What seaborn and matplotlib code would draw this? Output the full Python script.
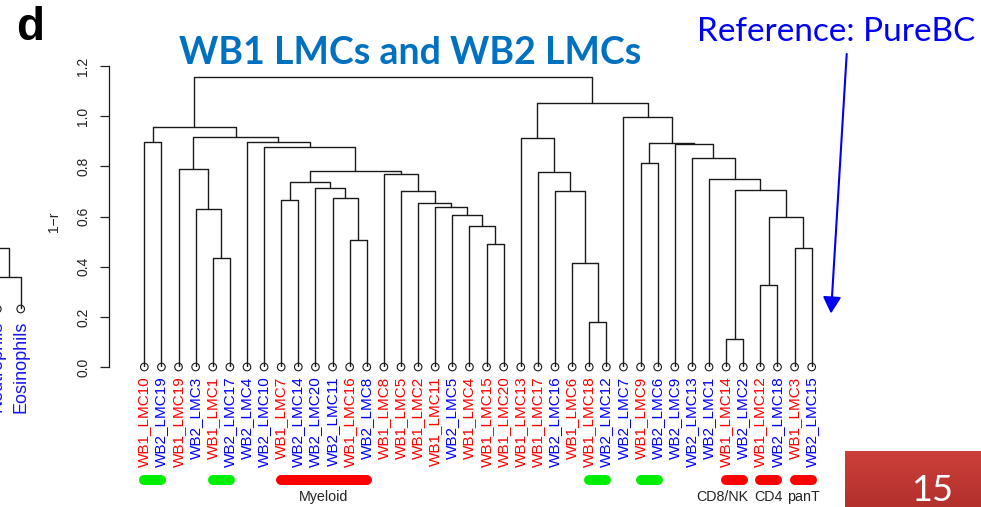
import numpy as np
import pandas as pd
import matplotlib
matplotlib.use("Agg")
import matplotlib.pyplot as plt
import seaborn as sns
from matplotlib import transforms
from matplotlib.colors import LinearSegmentedColormap

# ---- leaves of the dendrogram, in plotted order ----
leaf_labels = [
    "WB1_LMC10", "WB2_LMC19", "WB1_LMC19", "WB2_LMC3", "WB1_LMC1", "WB2_LMC17",
    "WB2_LMC4", "WB2_LMC10", "WB1_LMC7", "WB2_LMC14", "WB2_LMC20", "WB2_LMC11",
    "WB1_LMC16", "WB2_LMC8", "WB1_LMC8", "WB1_LMC5", "WB1_LMC2", "WB1_LMC11",
    "WB2_LMC5", "WB1_LMC4", "WB1_LMC15", "WB1_LMC20", "WB1_LMC13", "WB1_LMC17",
    "WB2_LMC16", "WB1_LMC6", "WB1_LMC18", "WB2_LMC12", "WB2_LMC7", "WB1_LMC9",
    "WB2_LMC6", "WB2_LMC9", "WB2_LMC13", "WB2_LMC1", "WB1_LMC14", "WB2_LMC2",
    "WB1_LMC12", "WB2_LMC18", "WB1_LMC3", "WB2_LMC15",
]
batch_colors = {"WB1": "#FF0000", "WB2": "#0000FF"}

# ---- merges (linkage style: ids >= 40 refer to earlier merges) ----
merge_left = [34, 26, 36, 25, 4, 38, 20, 12, 19, 42, 18, 3, 17, 16, 8, 11, 15, 24, 40, 10,
              54, 33, 14, 23, 60, 2, 29, 32, 7, 31, 66, 0, 6, 22, 65, 71, 28, 73, 75]
merge_right = [35, 27, 37, 41, 5, 39, 21, 13, 46, 45, 48, 44, 50, 52, 9, 47, 53, 43, 49, 55,
               59, 58, 56, 57, 62, 51, 30, 61, 64, 67, 69, 1, 68, 63, 72, 74, 70, 76, 77]
merge_height = [0.113, 0.181, 0.326, 0.416, 0.433, 0.476, 0.490, 0.508, 0.564, 0.598,
                0.606, 0.631, 0.639, 0.653, 0.667, 0.672, 0.703, 0.703, 0.704, 0.714,
                0.736, 0.751, 0.770, 0.779, 0.780, 0.789, 0.815, 0.835, 0.877, 0.889,
                0.894, 0.896, 0.896, 0.914, 0.918, 0.956, 0.998, 1.054, 1.157]

# ---- cell-type annotation bars under the leaves ----
bar_start = [0, 4, 8, 26, 29, 34, 36, 38]
bar_end = [1, 5, 13, 27, 30, 35, 37, 39]
bar_colors = ["#00EE00", "#00EE00", "#FF0000", "#00EE00", "#00EE00", "#FF0000", "#FF0000", "#FF0000"]
bar_names = ["", "", "Myeloid", "", "", "CD8/NK", "CD4", "panT"]
bar_name_align = ["center", "center", "center", "center", "center", "right", "center", "center"]

y_ticks = [0.0, 0.2, 0.4, 0.6, 0.8, 1.0, 1.2]

# ---- neighbouring panel (cut at the left edge) ----
side_labels = ["Neutrophils", "Eosinophils"]
side_merge_height = 0.126
side_parent_height = 0.242

sns.set_theme(style="white")
plt.rcParams["font.family"] = ["Liberation Sans", "DejaVu Sans"]

W, H = 981, 507
fig = plt.figure(figsize=(W / 100, H / 100), dpi=100)
fig.patch.set_facecolor("white")


def frac(x0, y_top, x1, y_bot):
    return [x0 / W, 1 - y_bot / H, (x1 - x0) / W, (y_bot - y_top) / H]


def dendro_segments(n_leaves, left, right, height):
    pos = {i: float(i) for i in range(n_leaves)}
    hgt = {i: 0.0 for i in range(n_leaves)}
    rows = []
    for k, (a, b, h) in enumerate(zip(left, right, height)):
        nid = n_leaves + k
        pos[nid] = (pos[a] + pos[b]) / 2
        hgt[nid] = h
        for x, y in [(pos[a], hgt[a]), (pos[a], h), (pos[b], h), (pos[b], hgt[b])]:
            rows.append({"node": nid, "x": x, "y": y})
    return pd.DataFrame(rows)


# ---------------- main dendrogram ----------------
ax = fig.add_axes(frac(109.3, 66, 830, 367))
n = len(leaf_labels)
step = (811.7 - 144.3) / (n - 1)
ax.set_xlim(-(144.3 - 109.3) / step, (830 - 144.3) / step)
ax.set_ylim(0, 1.2)

seg = dendro_segments(n, merge_left, merge_right, merge_height)
sns.lineplot(data=seg, x="x", y="y", units="node", estimator=None, sort=False,
             color="#1a1a1a", linewidth=1.0, ax=ax, legend=False)

leaf_df = pd.DataFrame({"x": np.arange(n), "y": np.zeros(n)})
sns.scatterplot(data=leaf_df, x="x", y="y", marker="o", s=30, facecolor="none",
                edgecolor="#1a1a1a", linewidth=0.8, ax=ax, clip_on=False, zorder=3)

lab_tr = transforms.offset_copy(ax.transData, fig=fig, y=-0.095, units="inches")
for i, lab in enumerate(leaf_labels):
    ax.text(i, 0, lab, transform=lab_tr, rotation=90, ha="center", va="top",
            fontsize=11, color=batch_colors[lab[:3]], clip_on=False)

ax.set_yticks(y_ticks)
ax.set_yticklabels([f"{v:.1f}" for v in y_ticks])
ax.tick_params(axis="y", left=True, length=6.7, width=0.9, pad=7, labelsize=10,
               labelrotation=90, colors="#222222")
for lbl in ax.get_yticklabels():
    lbl.set_va("center")
ax.set_xticks([])
ax.set_xlabel("")
ax.set_ylabel("1\u2212r", fontsize=10, color="#222222")
ax.yaxis.set_label_coords((61 - 109.3) / (830 - 109.3), (367 - 222) / (367 - 66))
sns.despine(ax=ax, top=True, right=True, bottom=True)
ax.spines["left"].set_bounds(0, 1.2)
ax.spines["left"].set_color("#1a1a1a")
ax.spines["left"].set_linewidth(0.9)
ax.grid(False)
ax.patch.set_alpha(0)

# annotation bars and their names
bar_tr = transforms.blended_transform_factory(ax.transData, fig.transFigure)
for s, e, c, name, al in zip(bar_start, bar_end, bar_colors, bar_names, bar_name_align):
    ax.plot([s, e], [1 - 480 / H, 1 - 480 / H], transform=bar_tr, color=c, lw=7.2,
            solid_capstyle="round", clip_on=False)
    if name:
        xpos = (s + e) / 2 if al == "center" else e + 0.3
        ax.text(xpos, 1 - 497 / H, name, transform=bar_tr, ha=al, va="center",
                fontsize=10.3, color="#222222", clip_on=False)

# ---------------- neighbouring panel at the left edge ----------------
side_step = 23.4
ax0 = fig.add_axes(frac(-60, 200, 40, 309))
ax0.set_xlim(-(-2.7 + 60) / side_step, (40 + 2.7) / side_step)
ax0.set_ylim(0, 109 / 250.8)
ax0.axis("off")
mid = 0.5
side_seg = pd.DataFrame({
    "node": [0, 0, 0, 0],
    "x": [0, 0, 1, 1],
    "y": [0, side_merge_height, side_merge_height, 0],
})
sns.lineplot(data=side_seg, x="x", y="y", units="node", estimator=None, sort=False,
             color="#1a1a1a", linewidth=1.0, ax=ax0, legend=False)
ax0.plot([-2, mid, mid], [side_parent_height, side_parent_height, side_merge_height],
         color="#1a1a1a", lw=1.0)
ax0.scatter([0, 1], [0, 0], s=30, facecolor="none", edgecolor="#1a1a1a", lw=0.8,
            clip_on=False, zorder=3)
side_tr = transforms.offset_copy(ax0.transData, fig=fig, y=-0.12, units="inches")
for i, lab in enumerate(side_labels):
    ax0.text(i, 0, lab, transform=side_tr, rotation=90, ha="center", va="top",
             fontsize=13, color="#1515EE", clip_on=False)

# ---------------- slide decorations ----------------
fig.text(16 / W, 1 - 6 / H, "d", fontsize=33, fontweight="bold", ha="left", va="top",
         color="black")
fig.text(410 / W, 1 - 53 / H, "WB1 LMCs and WB2 LMCs", fontsize=27, fontweight="bold",
         family=["Lato", "DejaVu Sans"], color="#0070C0", ha="center", va="center")
fig.text(836 / W, 1 - 32 / H, "Reference: PureBC", fontsize=24,
         family=["Lato", "DejaVu Sans"], color="#0000F5", ha="center", va="center")
ax.annotate("", xy=(831, H - 313.5), xycoords="figure pixels",
            xytext=(846.7, H - 54), textcoords="figure pixels",
            arrowprops=dict(arrowstyle="-|>,head_length=1.0,head_width=0.55",
                            mutation_scale=10, color="#0000F5", lw=1.5,
                            shrinkA=0, shrinkB=0))

# slide number box
axb = fig.add_axes(frac(845, 450.7, 981, 507))
grad = np.linspace(0, 1, 64).reshape(-1, 1)
cm = LinearSegmentedColormap.from_list("slide", ["#CC403B", "#B3302D"])
axb.imshow(grad, aspect="auto", cmap=cm, extent=[0, 1, 0, 1], origin="upper")
axb.axis("off")
fig.text(932 / W, 1 - 501 / H, "15", fontsize=26, family=["Lato", "DejaVu Sans"],
         color="white", ha="center", va="baseline")

fig.savefig("out.png", dpi=100, facecolor="white")
